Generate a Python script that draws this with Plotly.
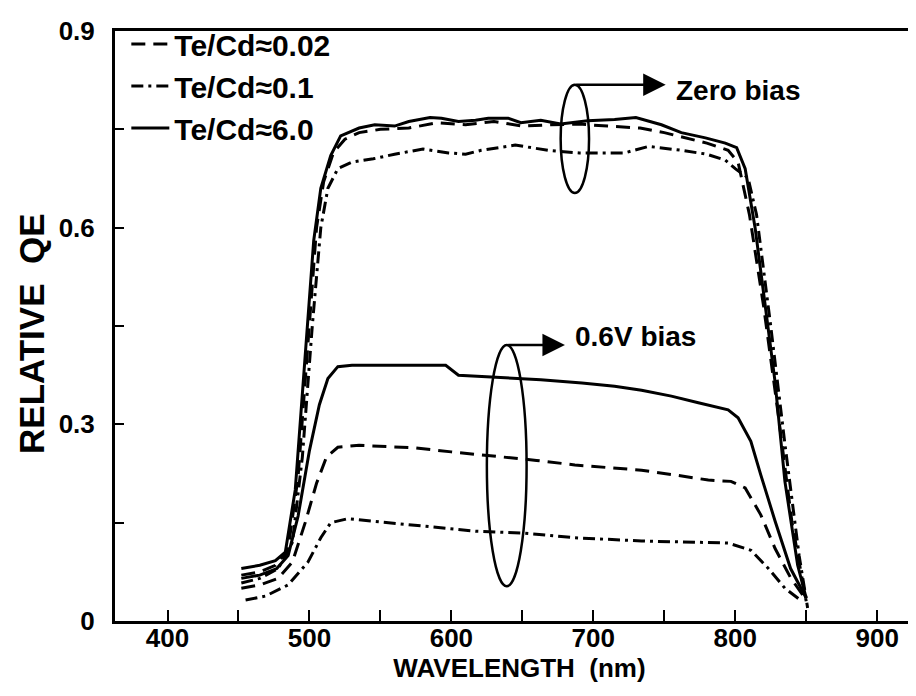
import plotly.graph_objects as go

# ---- data (wavelength nm, relative QE) ----
z_solid_x = [452, 465, 476, 483, 490, 497, 503, 508, 515, 522, 535, 546, 560, 570, 585, 593, 605, 617, 626, 640, 649, 663, 677, 696, 715, 730, 748, 762, 779, 793, 801, 807, 814, 820, 828, 835, 844, 850]
z_solid_y = [0.080, 0.085, 0.092, 0.105, 0.20, 0.40, 0.58, 0.66, 0.71, 0.74, 0.752, 0.757, 0.755, 0.762, 0.768, 0.767, 0.762, 0.764, 0.767, 0.767, 0.760, 0.764, 0.758, 0.763, 0.765, 0.768, 0.757, 0.745, 0.737, 0.729, 0.722, 0.69, 0.60, 0.50, 0.366, 0.213, 0.085, 0.035]

z_dash_x = [452, 465, 476, 485, 492, 499, 505, 510, 517, 525, 535, 550, 570, 590, 610, 630, 650, 670, 690, 710, 733, 750, 765, 780, 795, 802, 810, 820, 830, 840, 850]
z_dash_y = [0.070, 0.075, 0.085, 0.11, 0.22, 0.42, 0.60, 0.67, 0.715, 0.735, 0.745, 0.75, 0.752, 0.760, 0.757, 0.762, 0.755, 0.757, 0.758, 0.755, 0.752, 0.745, 0.737, 0.729, 0.718, 0.70, 0.62, 0.48, 0.32, 0.15, 0.03]

z_dd_x = [452, 465, 478, 488, 495, 502, 508, 513, 520, 530, 545, 560, 580, 598, 610, 621, 645, 668, 690, 703, 722, 739, 762, 780, 793, 800, 809, 815, 825, 835, 845, 851]
z_dd_y = [0.058, 0.065, 0.08, 0.12, 0.25, 0.45, 0.60, 0.66, 0.69, 0.70, 0.705, 0.712, 0.72, 0.714, 0.712, 0.718, 0.726, 0.718, 0.714, 0.714, 0.714, 0.724, 0.718, 0.712, 0.703, 0.69, 0.676, 0.62, 0.45, 0.27, 0.10, 0.02]

b_solid_x = [452, 465, 477, 485, 492, 500, 507, 513, 520, 530, 550, 570, 596, 605, 630, 663, 692, 715, 734, 755, 774, 795, 802, 811, 818, 828, 839, 850]
b_solid_y = [0.065, 0.07, 0.08, 0.10, 0.16, 0.26, 0.33, 0.37, 0.388, 0.39, 0.39, 0.39, 0.39, 0.375, 0.372, 0.368, 0.363, 0.358, 0.352, 0.343, 0.333, 0.322, 0.31, 0.274, 0.223, 0.153, 0.08, 0.035]

b_dash_x = [452, 465, 478, 488, 497, 505, 512, 520, 535, 555, 575, 600, 628, 660, 687, 710, 734, 760, 781, 797, 807, 818, 828, 839, 849]
b_dash_y = [0.05, 0.055, 0.065, 0.09, 0.15, 0.21, 0.25, 0.265, 0.268, 0.266, 0.264, 0.258, 0.252, 0.245, 0.238, 0.234, 0.23, 0.222, 0.215, 0.213, 0.203, 0.162, 0.111, 0.066, 0.035]

b_dd_x = [455, 469, 485, 499, 508, 515, 527, 546, 570, 593, 617, 652, 687, 734, 765, 795, 811, 823, 835, 847]
b_dd_y = [0.032, 0.038, 0.055, 0.09, 0.127, 0.15, 0.156, 0.152, 0.147, 0.143, 0.137, 0.134, 0.127, 0.122, 0.12, 0.119, 0.108, 0.081, 0.05, 0.03]

legend_names = ["Te/Cd\u22480.02", "Te/Cd\u22480.1", "Te/Cd\u22486.0"]

x_tick_vals = [400, 500, 600, 700, 800, 900]
x_tick_text = ["400", "500", "600", "700", "800", "900"]
y_tick_vals = [0, 0.3, 0.6, 0.9]
y_tick_text = ["0", "0.3", "0.6", "0.9"]

# group annotations (ellipse in data coords, label)
zero_ellipse = dict(x0=677, x1=697, y0=0.653, y1=0.818)
zero_label = "Zero bias"
bias_ellipse = dict(x0=625, x1=653, y0=0.053, y1=0.421)
bias_label = "0.6V bias"

FONT = "Liberation Sans, Arial, sans-serif"
DASH = "14px,8px"
DASHDOT = "12px,5px,3px,5px"
LW = 3

def bf(size):
    return dict(family=FONT, size=size, color="black", weight="bold")

fig = go.Figure()
series = [
    (z_dash_x, z_dash_y, DASH, legend_names[0], True),
    (z_dd_x, z_dd_y, DASHDOT, legend_names[1], True),
    (z_solid_x, z_solid_y, "solid", legend_names[2], True),
    (b_dash_x, b_dash_y, DASH, legend_names[0], False),
    (b_dd_x, b_dd_y, DASHDOT, legend_names[1], False),
    (b_solid_x, b_solid_y, "solid", legend_names[2], False),
]
for i, (xs, ys, dash, name, show) in enumerate(series):
    fig.add_trace(go.Scatter(
        x=xs, y=ys, mode="lines", name=name, showlegend=show,
        line=dict(color="black", width=LW, dash=dash),
    ))

# ellipses
for e in (zero_ellipse, bias_ellipse):
    fig.add_shape(type="circle", xref="x", yref="y", line=dict(color="black", width=2.5), **e)

# arrows + labels
for e, label, tip, dy in ((zero_ellipse, zero_label, 751, -0.008), (bias_ellipse, bias_label, 680, 0.013)):
    xc = (e["x0"] + e["x1"]) / 2
    fig.add_annotation(x=tip, y=e["y1"], ax=xc, ay=e["y1"], xref="x", yref="y", axref="x", ayref="y",
                       showarrow=True, arrowhead=2, arrowsize=1.8, arrowwidth=2.5, arrowcolor="black", text="")
    fig.add_annotation(x=tip + 6, y=e["y1"] + dy, xref="x", yref="y", text=label, showarrow=False,
                       xanchor="left", yanchor="middle", font=bf(28))

# y-axis title
fig.add_annotation(x=-0.104, y=0.488, xref="paper", yref="paper",
                   text="RELATIVE\u00a0\u00a0QE", textangle=-90,
                   showarrow=False, xanchor="center", yanchor="middle", font=bf(35))

axis_common = dict(showgrid=False, zeroline=False, showline=True, linecolor="black", linewidth=3,
                   ticks="inside", tickcolor="black", tickwidth=2, tickfont=bf(26))

fig.update_xaxes(range=[363, 933], tickmode="array", tickvals=x_tick_vals, ticktext=x_tick_text,
                 ticklen=7, mirror=True, ticklabelstandoff=-8,
                 minor=dict(ticks="inside", tickmode="linear", tick0=350, dtick=50, ticklen=11,
                            tickwidth=2, tickcolor="black"),
                 title=dict(text="WAVELENGTH\u00a0\u00a0(nm)", font=bf(26), standoff=2),
                 **axis_common)
fig.update_yaxes(range=[0, 0.9], tickmode="array", tickvals=y_tick_vals, ticktext=y_tick_text,
                 ticklen=9, ticklabelstandoff=12,
                 minor=dict(ticks="inside", tickmode="linear", tick0=0, dtick=0.15, ticklen=9,
                            tickwidth=2, tickcolor="black"),
                 **axis_common)

fig.update_layout(
    width=916, height=696,
    margin=dict(l=107, r=0, t=23, b=83),
    paper_bgcolor="white", plot_bgcolor="white",
    font=dict(family=FONT, color="black"),
    showlegend=True,
    legend=dict(x=0.014, y=1.022, xanchor="left", yanchor="top", bgcolor="rgba(0,0,0,0)",
                font=bf(30), tracegroupgap=0, itemwidth=38),
)

fig.write_html("out.html")
